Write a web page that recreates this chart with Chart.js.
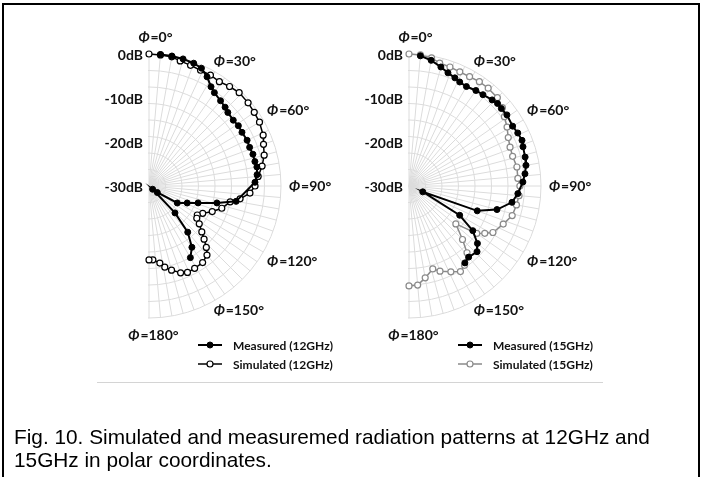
<!DOCTYPE html>
<html>
<head>
<meta charset="utf-8">
<script src="https://cdn.jsdelivr.net/npm/chart.js@4.4.0/dist/chart.umd.min.js"></script>
<style>
  html, body { margin: 0; padding: 0; background: #fff; }
  body { width: 703px; height: 477px; position: relative; overflow: hidden; }
  #frame { position: absolute; left: 2px; top: 3px; width: 698px; height: 520px; border: 2px solid #000; box-sizing: border-box; }
  #rule { position: absolute; left: 97px; top: 382px; width: 506px; border-top: 1px solid #d4d4d4; }
  canvas { position: absolute; left: 0; top: 0; }
  #caption { position: absolute; left: 14px; top: 425px; font: 20.8px "Liberation Sans", Arial, sans-serif; line-height: 23px; color: #000; white-space: nowrap; }
</style>
</head>
<body>
<div id="frame"></div>
<div id="rule"></div>
<canvas id="chart12" width="703" height="477"></canvas>
<canvas id="chart15" width="703" height="477"></canvas>
<div id="caption">Fig. 10. Simulated and measuremed radiation patterns at 12GHz and<br>15GHz in polar coordinates.</div>
<script>
// angles in degrees (0 = top, clockwise), levels in dB
const meas12Angles = [5, 10, 15, 20, 24, 28, 32, 35, 40, 44, 47, 52, 56, 60, 65, 69, 73, 77, 80, 84, 88, 100, 104, 109, 114, 121, 128, 132, 136, 140, 145, 150];
const meas12Db = [0, 0, -0.1, -0.3, -0.7, -1.9, -3.4, -4.1, -4.7, -5.1, -5.5, -5.7, -5.5, -5.6, -5.4, -5.5, -5.3, -5.3, -5.1, -5.3, -5.9, -9.9, -14.1, -18.2, -20.5, -22.5, -27.6, -28.9, -21.5, -16.3, -13.0, -11.2];

const sim12Angles = [0, 5, 10, 14, 19, 24, 29, 34, 39, 44, 50, 55, 60, 66, 70, 75, 80, 85, 90, 94, 98, 101, 107, 112, 117, 121, 124, 127, 131, 134, 137, 140, 145, 151, 156, 160, 165, 169, 172, 177, 180];
const sim12Db = [0, -0.1, -0.2, -0.7, -1.0, -1.2, -1.2, -1.4, -0.9, -0.5, -0.6, -0.8, -1.0, -1.6, -2.3, -2.9, -3.9, -5.1, -5.9, -7.0, -9.1, -11.2, -12.7, -14.5, -16.3, -17.2, -16.9, -15.7, -14.1, -12.6, -10.9, -9.5, -8.75, -8.6, -8.5, -9.0, -10.2, -11.2, -12.3, -13.2, -13.2];

const meas15Angles = [5, 10, 15, 19, 23, 26, 30, 35, 39, 44, 47, 50, 54, 60, 64, 68, 71, 76, 80, 84, 88, 94, 99, 105, 110, 113, 120, 125, 130, 134, 140, 144];
const meas15Db = [-0.3, -1.0, -2.0, -2.8, -3.3, -3.7, -3.9, -3.5, -3.3, -2.8, -2.5, -2.6, -2.5, -2.8, -2.5, -2.3, -2.6, -2.8, -3.0, -3.5, -4.1, -5.2, -6.3, -9.3, -13.5, -26.6, -16.7, -12.3, -9.7, -8.5, -8.9, -8.4];

const sim15Angles = [0, 5, 10, 14, 19, 24, 29, 34, 39, 45, 50, 54, 59, 64, 69, 74, 80, 86, 90, 95, 100, 106, 112, 119, 122, 125, 129, 135, 139, 145, 149, 154, 160, 164, 170, 175, 180];
const sim15Db = [0, -0.1, -0.45, -1.2, -1.4, -1.6, -1.6, -1.4, -1.4, -1.6, -2.3, -3.2, -4.0, -4.9, -5.4, -5.5, -5.1, -5.2, -4.8, -4.9, -5.2, -5.6, -6.9, -8.2, -9.7, -11.2, -16.3, -12.8, -9.9, -8.0, -7.3, -8.3, -9.4, -10.4, -8.8, -7.4, -7.3];

const dbTicks = [0, -10, -20, -30];
const phiTicks = [0, 30, 60, 90, 120, 150, 180];

// one category per degree, so the radar scale puts every value at its own angle
const angleLabels = Array.from({ length: 360 }, (_, i) => i);

function toRadar(angles, values) {
  const arr = new Array(360).fill(null);
  angles.forEach((a, i) => { arr[a] = values[i]; });
  return arr;
}

const labelFont = 'Lato, "DejaVu Sans", sans-serif';

function drawPhi(ctx, deg, x, y, align) {
  const rest = '=' + deg + '°';
  ctx.font = 'italic bold 14px ' + labelFont;
  const w1 = ctx.measureText('Φ').width;
  ctx.font = 'bold 14px ' + labelFont;
  const w2 = ctx.measureText(rest).width;
  const x0 = align === 'center' ? x - (w1 + w2) / 2 : x;
  ctx.textAlign = 'left';
  ctx.textBaseline = 'middle';
  ctx.font = 'italic bold 14px ' + labelFont;
  ctx.fillText('Φ', x0, y);
  ctx.font = 'bold 14px ' + labelFont;
  ctx.fillText(rest, x0 + w1 + 1, y);
}

const halfPolar = {
  id: 'halfPolar',
  afterDatasetUpdate(chart, args) {
    // a radar closes its path; these patterns are open curves
    const line = args.meta.dataset;
    if (line) {
      line._loop = false;
      delete line._segments;
      delete line._path;
    }
  },
  beforeDatasetsDraw(chart) {
    const r = chart.scales.r;
    const R = r.drawingArea;
    chart.ctx.clearRect(r.xCenter - R - 4, r.yCenter - R - 4, R + 3, 2 * R + 8);
  },
  afterDraw(chart) {
    const r = chart.scales.r;
    const ctx = chart.ctx;
    const R = r.drawingArea;
    ctx.save();
    ctx.fillStyle = '#111';

    // radial tick labels
    ctx.font = 'bold 14px ' + labelFont;
    ctx.textAlign = 'right';
    ctx.textBaseline = 'middle';
    dbTicks.forEach(v => {
      const d = r.getDistanceFromCenterForValue(v);
      ctx.fillText(v + 'dB', r.xCenter - 6, r.yCenter - d + 1);
    });

    // angle labels
    phiTicks.forEach(a => {
      if (a === 0) {
        drawPhi(ctx, a, r.xCenter + 6, r.yCenter - R - 17, 'center');
      } else if (a === 180) {
        drawPhi(ctx, a, r.xCenter + 4, r.yCenter + R + 17, 'center');
      } else {
        const adj = a < 90 ? -2.5 : (a > 90 ? 2.5 : 0);
        const p = r.getPointPosition(a + adj, R + 8);
        drawPhi(ctx, a, p.x, p.y, 'left');
      }
    });

    // legend
    chart.data.datasets.forEach((ds, i) => {
      const y = r.yCenter + 159 + i * 19;
      const x0 = r.xCenter + 49;
      ctx.strokeStyle = ds.borderColor;
      ctx.lineWidth = ds.borderWidth;
      ctx.beginPath();
      ctx.moveTo(x0, y);
      ctx.lineTo(x0 + 24, y);
      ctx.stroke();
      ctx.beginPath();
      ctx.arc(x0 + 12, y, ds.pointRadius, 0, Math.PI * 2);
      ctx.fillStyle = ds.pointBackgroundColor;
      ctx.fill();
      ctx.lineWidth = ds.pointBorderWidth;
      ctx.strokeStyle = ds.pointBorderColor;
      ctx.stroke();
      ctx.fillStyle = '#111';
      ctx.font = 'bold 12px ' + labelFont;
      ctx.textAlign = 'left';
      ctx.textBaseline = 'middle';
      ctx.fillText(ds.label, x0 + 35, y + 1);
    });
    ctx.restore();
  }
};

function makeChart(id, left, freq, measAngles, measDb, simAngles, simDb, simColor) {
  const size = 264;
  return new Chart(document.getElementById(id), {
    type: 'radar',
    data: {
      labels: angleLabels,
      datasets: [
        {
          label: 'Measured (' + freq + ')',
          data: toRadar(measAngles, measDb),
          borderColor: '#000',
          borderWidth: 2,
          pointRadius: 3,
          pointBackgroundColor: '#000',
          pointBorderColor: '#000',
          pointBorderWidth: 1,
          spanGaps: true,
          fill: false
        },
        {
          label: 'Simulated (' + freq + ')',
          data: toRadar(simAngles, simDb),
          borderColor: simColor,
          borderWidth: 1.5,
          pointRadius: 3,
          pointBackgroundColor: '#fff',
          pointBorderColor: simColor,
          pointBorderWidth: 1.2,
          spanGaps: true,
          fill: false
        }
      ]
    },
    options: {
      responsive: false,
      animation: false,
      layout: { padding: { left: left, right: 703 - left - size, top: 54, bottom: 477 - 54 - size } },
      plugins: { legend: { display: false }, tooltip: { enabled: false } },
      elements: { line: { tension: 0 } },
      scales: {
        r: {
          min: -30,
          max: 0,
          startAngle: 0,
          ticks: { display: false, stepSize: 3.75 },
          grid: { color: '#dcdcdc', lineWidth: 1, circular: true },
          angleLines: {
            color: '#dcdcdc',
            lineWidth: ctx => (ctx.index % 5 === 0 && ctx.index <= 180) ? 1 : 0
          },
          pointLabels: { display: false }
        }
      }
    },
    plugins: [halfPolar]
  });
}

makeChart('chart12', 17, '12GHz', meas12Angles, meas12Db, sim12Angles, sim12Db, '#000');
makeChart('chart15', 277, '15GHz', meas15Angles, meas15Db, sim15Angles, sim15Db, '#8a8a8a');
</script>
</body>
</html>
